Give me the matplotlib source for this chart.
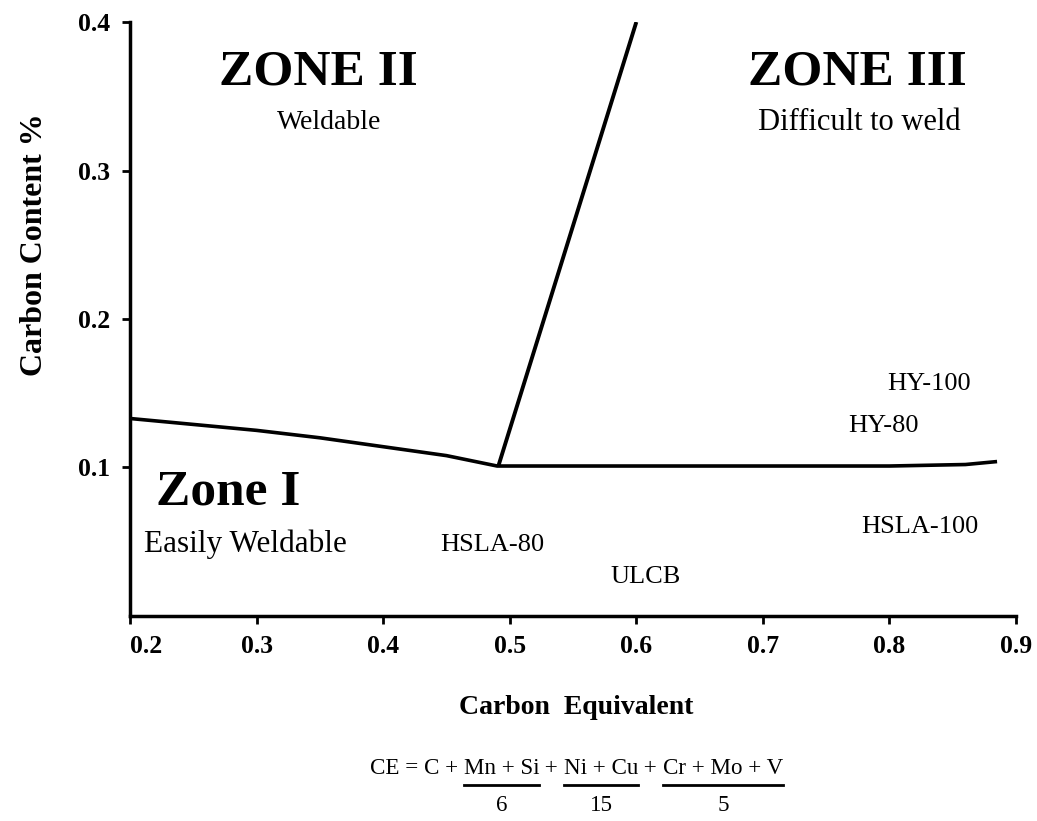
import matplotlib
matplotlib.use('Agg')
import matplotlib.pyplot as plt
from matplotlib.lines import Line2D

plt.rcParams['font.family'] = ['Liberation Serif', 'DejaVu Serif']

# zone boundary lines (carbon equivalent, carbon content %)
bound_ce = [0.2, 0.25, 0.3, 0.35, 0.4, 0.45, 0.49, 0.6, 0.7, 0.8, 0.86, 0.885]
bound_c = [0.133, 0.129, 0.125, 0.120, 0.114, 0.108, 0.101, 0.101, 0.101, 0.101, 0.102, 0.104]
steep_ce = [0.491, 0.6]
steep_c = [0.101, 0.4]

# steel grades
steel_names = ['HY-100', 'HY-80', 'HSLA-100', 'HSLA-80', 'ULCB']
steel_ce = [0.831, 0.795, 0.824, 0.486, 0.607]
steel_c = [0.156, 0.128, 0.060, 0.048, 0.026]

x_ticks = [0.2, 0.3, 0.4, 0.5, 0.6, 0.7, 0.8, 0.9]
y_ticks = [0.1, 0.2, 0.3, 0.4]

fig = plt.figure(figsize=(10.37, 8.21), dpi=100)
ax = fig.add_axes([0.1254, 0.2497, 0.8544, 0.7235])

ax.plot(bound_ce, bound_c, color='black', lw=2.6, solid_capstyle='butt')
ax.plot(steep_ce, steep_c, color='black', lw=2.8, solid_capstyle='butt')

for name, xx, yy in zip(steel_names, steel_ce, steel_c):
    ax.text(xx, yy, name, ha='center', va='center', fontsize=19)

# zone labels
ax.text(0.349, 0.366, 'ZONE II', ha='center', va='center', fontsize=37, fontweight='bold')
ax.text(0.357, 0.332, 'Weldable', ha='center', va='center', fontsize=20)
ax.text(0.775, 0.366, 'ZONE III', ha='center', va='center', fontsize=37, fontweight='bold')
ax.text(0.776, 0.332, 'Difficult to weld', ha='center', va='center', fontsize=22)
ax.text(0.2205, 0.083, 'Zone I', ha='left', va='center', fontsize=37, fontweight='bold')
ax.text(0.211, 0.048, 'Easily Weldable', ha='left', va='center', fontsize=22.5)

ax.set_xlim(0.2, 0.9)
ax.set_ylim(0, 0.4)
ax.set_xticks(x_ticks)
ax.set_xticklabels([f'{v:.1f}' for v in x_ticks])
ax.set_yticks(y_ticks)
ax.set_yticklabels([f'{v:.1f}' for v in y_ticks])
for s in ['top', 'right']:
    ax.spines[s].set_visible(False)
for s in ['left', 'bottom']:
    ax.spines[s].set_linewidth(2.5)
ax.tick_params(direction='out', length=6, width=2, labelsize=18.5, pad=8)
for lab in ax.get_xticklabels() + ax.get_yticklabels():
    lab.set_fontweight('bold')
ax.get_xticklabels()[0].set_ha('left')

ax.set_ylabel('Carbon Content %', fontsize=23, fontweight='bold')
ax.yaxis.set_label_coords(-0.092, 0.625)
fig.text(576 / 1037, 1 - 707 / 821, 'Carbon  Equivalent', ha='center', va='center',
         fontsize=20, fontweight='bold')

# CE formula with underlined numerators
fig.canvas.draw()
r = fig.canvas.get_renderer()
parts = ['CE = C + ', 'Mn + Si', ' + ', 'Ni + Cu', ' + ', 'Cr + Mo + V']
denoms = [None, '6', None, '15', None, '5']
x = 370 / 1037
y = 1 - 768 / 821
for part, den in zip(parts, denoms):
    t = fig.text(x, y, part, ha='left', va='center', fontsize=16.6)
    bb = t.get_window_extent(r).transformed(fig.transFigure.inverted())
    if den is not None:
        uy = 1 - 785 / 821
        fig.add_artist(Line2D([bb.x0, bb.x1], [uy, uy], transform=fig.transFigure,
                              color='black', lw=2))
        fig.text((bb.x0 + bb.x1) / 2, 1 - 805 / 821, den, ha='center', va='center',
                 fontsize=16.6)
    x = bb.x1

fig.savefig('out.png', dpi=100)
